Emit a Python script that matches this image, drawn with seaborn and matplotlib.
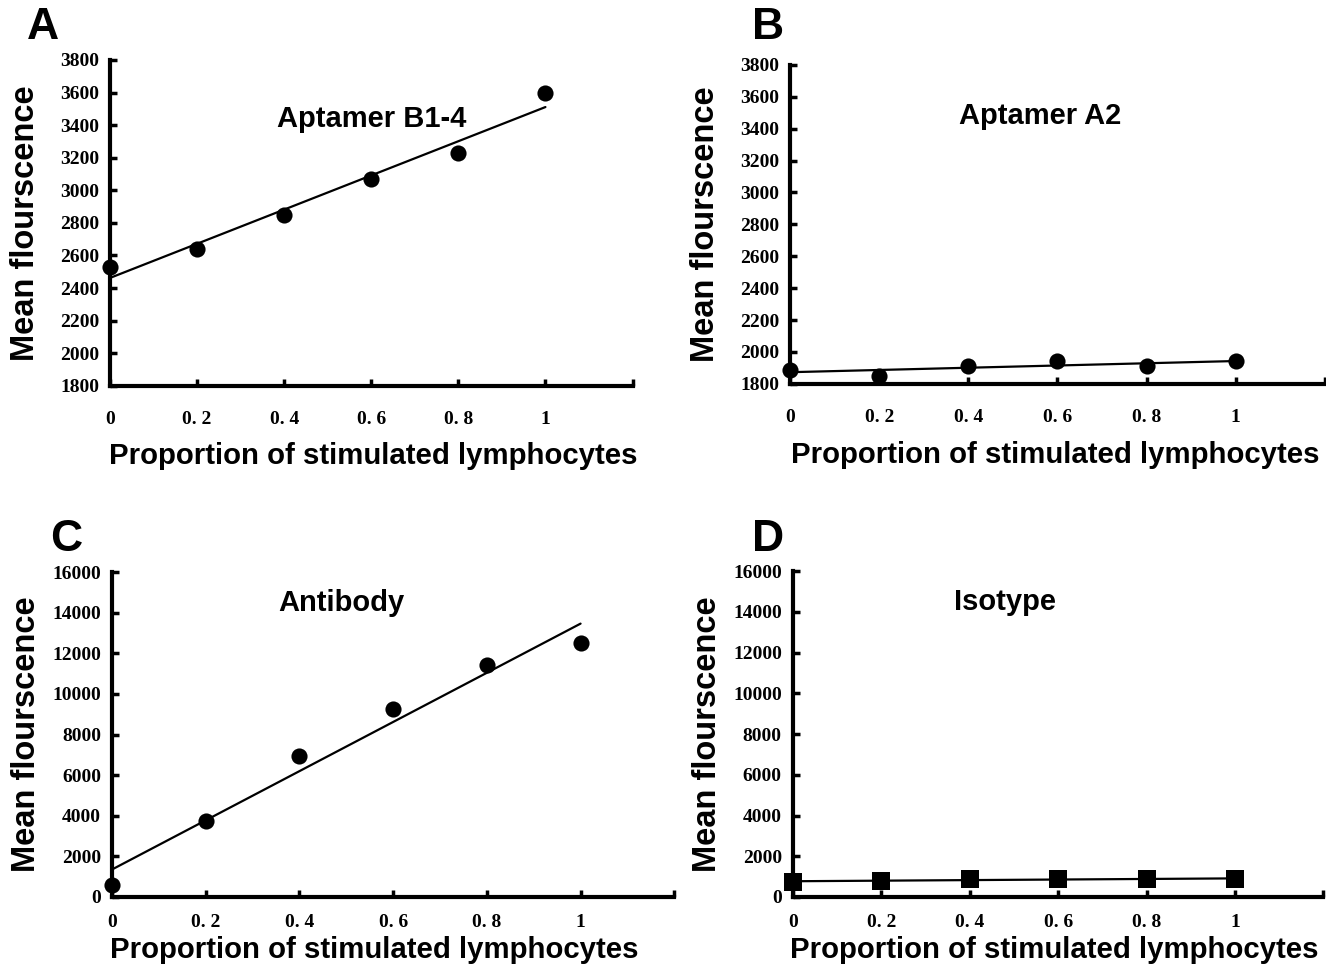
import seaborn as sns
import pandas as pd
import matplotlib.pyplot as plt

proportion = [0, 0.2, 0.4, 0.6, 0.8, 1.0]
aptamer_b14 = [2530, 2640, 2850, 3070, 3230, 3600]
aptamer_a2 = [1890, 1850, 1910, 1945, 1910, 1945]
antibody = [600, 3750, 6950, 9250, 11400, 12500]
isotype = [750, 780, 870, 900, 880, 880]

x_ticks = [0, 0.2, 0.4, 0.6, 0.8, 1.0, 1.2]
x_ticklabels = ["0", "0. 2", "0. 4", "0. 6", "0. 8", "1", ""]
small_yticks = [1800, 2000, 2200, 2400, 2600, 2800, 3000, 3200, 3400, 3600, 3800]
big_yticks = [0, 2000, 4000, 6000, 8000, 10000, 12000, 14000, 16000]

sns.set_style("white")
plt.rcParams['font.family'] = ['Liberation Sans', 'DejaVu Sans']
plt.rcParams['text.color'] = 'black'
plt.rcParams['axes.labelcolor'] = 'black'
plt.rcParams['xtick.color'] = 'black'
plt.rcParams['ytick.color'] = 'black'

fig = plt.figure(figsize=(13.26, 9.67), dpi=100)
W, H = 1326, 967


def plot_panel(rect, values, yticks, name, name_pos, letter, letter_pos, marker, size,
               xpad, ylab_px, xlab_pos):
    ax = fig.add_axes(rect)
    df = pd.DataFrame({"proportion": proportion, "value": values})
    sns.regplot(data=df, x="proportion", y="value", ax=ax, ci=None, truncate=True,
                marker=marker, color="black",
                scatter_kws={"s": size, "clip_on": False, "zorder": 5, "linewidths": 0, "alpha": 1},
                line_kws={"linewidth": 1.6, "color": "black"})
    ax.set_xlim(0, 1.2)
    ax.set_ylim(yticks[0], yticks[-1])
    ax.set_xticks(x_ticks)
    ax.set_xticklabels(x_ticklabels)
    ax.set_yticks(yticks)
    ax.set_yticklabels([str(t) for t in yticks])
    for lab in ax.get_xticklabels() + ax.get_yticklabels():
        lab.set_family(['Liberation Serif', 'DejaVu Serif'])
        lab.set_fontweight('bold')
        lab.set_fontsize(14)
    ax.tick_params(axis='x', bottom=True, direction='in', length=5, width=2.5, pad=xpad)
    ax.tick_params(axis='y', left=True, direction='in', length=5, width=2.5, pad=8)
    sns.despine(ax=ax)
    for s in ["left", "bottom"]:
        ax.spines[s].set_linewidth(3)
        ax.spines[s].set_color("black")
    ax.set_xlabel("Proportion of stimulated lymphocytes", fontsize=21.2, fontweight='bold')
    ax.set_ylabel("Mean flourscence", fontsize=23.5, fontweight='bold')
    # place axis labels where they sit in the original figure
    left_px = rect[0] * W
    width_px = rect[2] * W
    bottom_px = (1 - rect[1]) * H
    height_px = rect[3] * H
    ax.yaxis.set_label_coords((ylab_px - left_px) / width_px, 0.5)
    ax.yaxis.label.set_verticalalignment('center')
    ax.xaxis.set_label_coords((xlab_pos[0] - left_px) / width_px, (bottom_px - xlab_pos[1]) / height_px)
    ax.xaxis.label.set_verticalalignment('center')
    ax.text(name_pos[0], name_pos[1], name, fontsize=21, fontweight='bold', ha='center', va='center')
    fig.text(letter_pos[0], letter_pos[1], letter, fontsize=32, fontweight='bold', ha='left', va='top')
    return ax


plot_panel([0.083, 0.601, 0.394, 0.337], aptamer_b14, small_yticks, "Aptamer B1-4", (0.6, 3440),
           "A", (0.02, 0.993), "o", 135, 18, 26, (373, 456))
plot_panel([0.596, 0.603, 0.403, 0.330], aptamer_a2, small_yticks, "Aptamer A2", (0.56, 3480),
           "B", (0.567, 0.993), "o", 135, 18, 706, (1055, 455))
plot_panel([0.0845, 0.0724, 0.424, 0.336], antibody, big_yticks, "Antibody", (0.49, 14500),
           "C", (0.038, 0.463), "o", 135, 12, 27, (374, 950))
plot_panel([0.598, 0.0724, 0.40, 0.337], isotype, big_yticks, "Isotype", (0.48, 14500),
           "D", (0.567, 0.463), "s", 150, 12, 708, (1054, 950))

plt.savefig("out.png", dpi=100)
